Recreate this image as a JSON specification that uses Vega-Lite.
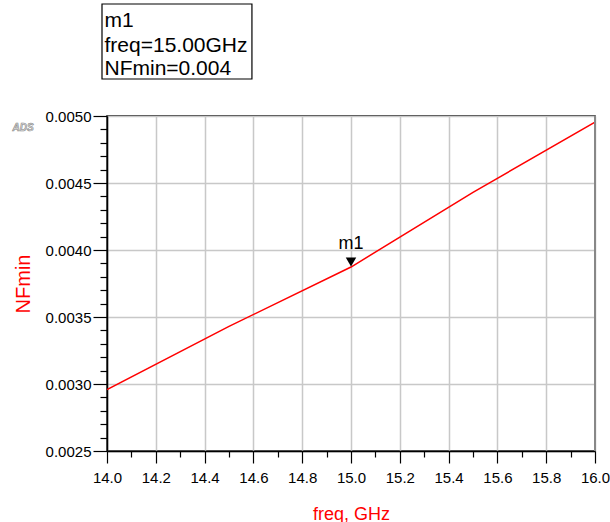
{
  "$schema": "https://vega.github.io/schema/vega-lite/v6.json",
  "width": 488,
  "height": 335,
  "autosize": {"type": "none"},
  "padding": {"left": 107, "top": 116, "right": 15, "bottom": 71},
  "background": "white",
  "config": {
    "font": "Liberation Sans",
    "view": {"stroke": "black", "strokeWidth": 1.5}
  },
  "datasets": {
    "curve": [
      {"freq": 14.0, "nf": 0.002958},
      {"freq": 14.5, "nf": 0.00343},
      {"freq": 15.0, "nf": 0.003873},
      {"freq": 15.5, "nf": 0.00443},
      {"freq": 16.0, "nf": 0.004955}
    ],
    "marker": [{"freq": 15.0, "nf": 0.003873, "name": "m1"}],
    "edge": [{"freq": 16.0}],
    "box": [{"freq": 13.9795, "freq2": 14.594, "nf": 0.005836, "nf2": 0.005276}],
    "boxtext": [
      {"freq": 13.9898, "nf": 0.005666, "label": "m1"},
      {"freq": 13.9898, "nf": 0.005478, "label": "freq=15.00GHz"},
      {"freq": 13.9898, "nf": 0.005306, "label": "NFmin=0.004"}
    ],
    "logo": [{"freq": 13.656, "nf": 0.004907, "label": "ADS"}]
  },
  "layer": [
    {
      "data": {"name": "curve"},
      "mark": {"type": "line", "color": "#ff0000", "strokeWidth": 1.5, "clip": true},
      "encoding": {
        "x": {
          "field": "freq", "type": "quantitative",
          "scale": {"domain": [14, 16], "nice": false, "zero": false},
          "axis": {
            "title": "freq, GHz",
            "titleColor": "#ff0000",
            "titleFontSize": 18,
            "titleFontWeight": "normal",
            "titlePadding": 20,
            "tickCount": 40,
            "values": [14.0, 14.1, 14.2, 14.3, 14.4, 14.5, 14.6, 14.7, 14.8, 14.9, 15.0, 15.1, 15.2, 15.3, 15.4, 15.5, 15.6, 15.7, 15.8, 15.9, 16.0],
            "labelExpr": "round(datum.value*10)%2===0 ? format(datum.value,'.1f') : ''",
            "labelFontSize": 15,
            "labelColor": "black",
            "labelPadding": 7,
            "labelFlush": false,
            "labelOverlap": false,
            "domainColor": "black",
            "domainWidth": 1.5,
            "tickColor": "black",
            "tickWidth": 1.2,
            "tickSize": {"condition": {"test": "round(datum.value*10)%2===0", "value": 12}, "value": 6},
            "grid": true,
            "gridColor": "#c8c8c8",
            "gridWidth": 1.5,
            "gridOpacity": {"condition": {"test": "round(datum.value*10)%2===0", "value": 1}, "value": 0}
          }
        },
        "y": {
          "field": "nf", "type": "quantitative",
          "scale": {"domain": [0.0025, 0.005], "nice": false, "zero": false},
          "axis": {
            "title": "NFmin",
            "titleColor": "#ff0000",
            "titleFontSize": 20,
            "titleFontWeight": "normal",
            "titlePadding": 12,
            "tickCount": 40,
            "values": [0.0025, 0.0026, 0.0027, 0.0028, 0.0029, 0.003, 0.0031, 0.0032, 0.0033, 0.0034, 0.0035, 0.0036, 0.0037, 0.0038, 0.0039, 0.004, 0.0041, 0.0042, 0.0043, 0.0044, 0.0045, 0.0046, 0.0047, 0.0048, 0.0049, 0.005],
            "labelExpr": "round(datum.value*10000)%5===0 ? format(datum.value,'.4f') : ''",
            "labelFontSize": 15,
            "labelColor": "black",
            "labelPadding": 2,
            "labelFlush": false,
            "labelOverlap": false,
            "domainColor": "black",
            "domainWidth": 1.5,
            "tickColor": "black",
            "tickWidth": 1.2,
            "tickSize": {"condition": {"test": "round(datum.value*10000)%5===0", "value": 14}, "value": 7},
            "grid": true,
            "gridColor": "#c8c8c8",
            "gridWidth": 1.5,
            "gridOpacity": {"condition": {"test": "round(datum.value*10000)%5===0", "value": 1}, "value": 0}
          }
        }
      }
    },
    {
      "data": {"name": "edge"},
      "mark": {"type": "rule", "color": "#888888", "strokeWidth": 2},
      "encoding": {"x": {"field": "freq", "type": "quantitative"}}
    },
    {
      "data": {"name": "marker"},
      "mark": {"type": "point", "shape": "triangle-down", "filled": true, "color": "black", "size": 110, "opacity": 1, "yOffset": -5},
      "encoding": {
        "x": {"field": "freq", "type": "quantitative"},
        "y": {"field": "nf", "type": "quantitative"}
      }
    },
    {
      "data": {"name": "marker"},
      "mark": {"type": "text", "fontSize": 18, "color": "black", "align": "center", "baseline": "alphabetic", "dy": -18},
      "encoding": {
        "x": {"field": "freq", "type": "quantitative"},
        "y": {"field": "nf", "type": "quantitative"},
        "text": {"field": "name"}
      }
    },
    {
      "data": {"name": "box"},
      "mark": {"type": "rect", "fill": "white", "stroke": "black", "strokeWidth": 1.2, "clip": false},
      "encoding": {
        "x": {"field": "freq", "type": "quantitative"},
        "x2": {"field": "freq2"},
        "y": {"field": "nf", "type": "quantitative"},
        "y2": {"field": "nf2"}
      }
    },
    {
      "data": {"name": "boxtext"},
      "mark": {"type": "text", "fontSize": 21, "color": "black", "align": "left", "baseline": "alphabetic", "clip": false},
      "encoding": {
        "x": {"field": "freq", "type": "quantitative"},
        "y": {"field": "nf", "type": "quantitative"},
        "text": {"field": "label"}
      }
    },
    {
      "data": {"name": "logo"},
      "mark": {"type": "text", "fontSize": 10, "fontStyle": "italic", "fontWeight": "bold", "fill": "#dddddd", "stroke": "#888888", "strokeWidth": 0.6, "align": "center", "baseline": "middle", "clip": false},
      "encoding": {
        "x": {"field": "freq", "type": "quantitative"},
        "y": {"field": "nf", "type": "quantitative"},
        "text": {"field": "label"}
      }
    }
  ]
}
